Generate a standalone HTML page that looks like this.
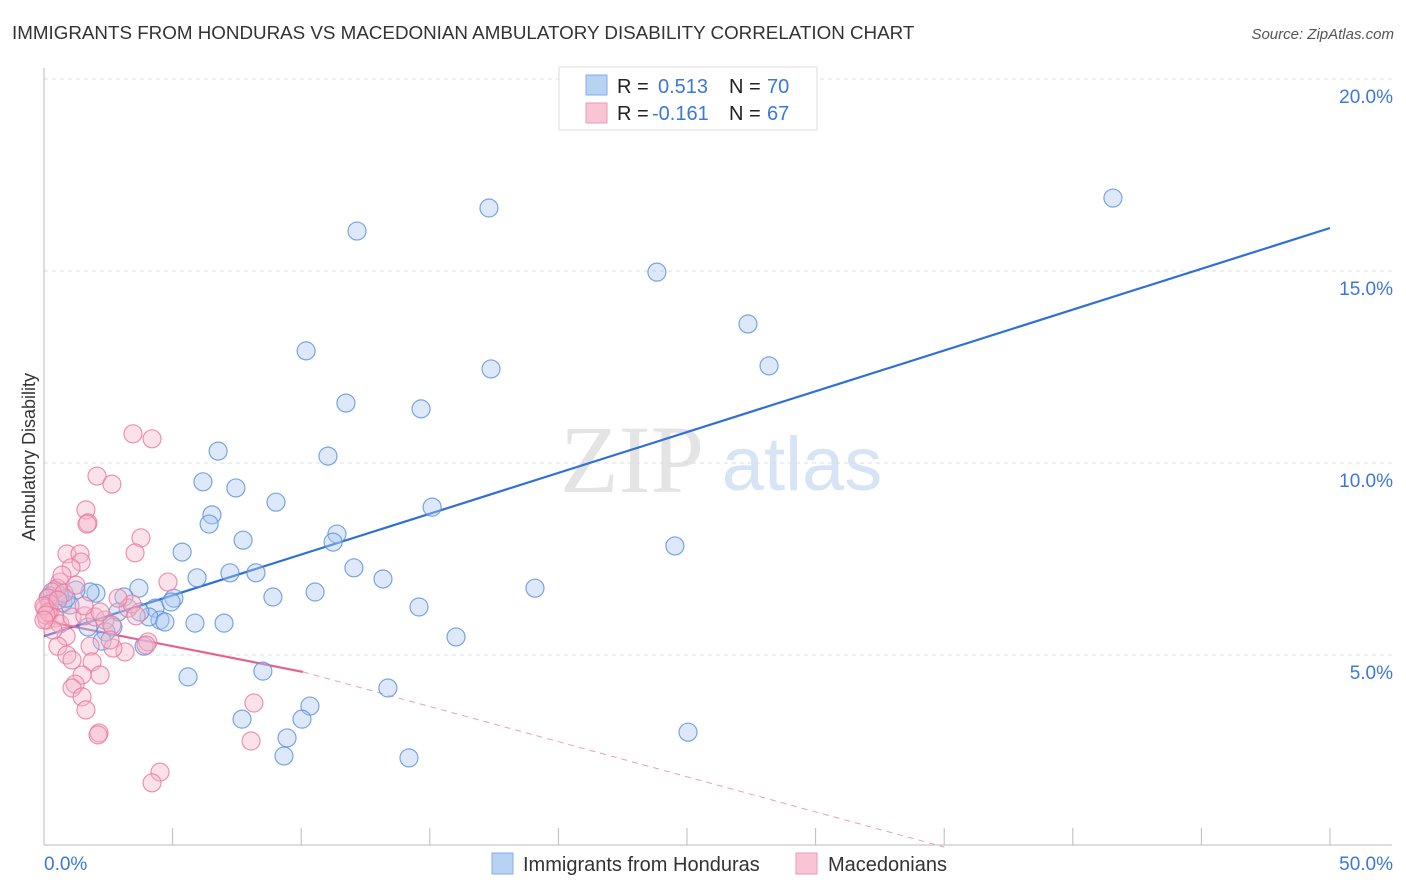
<!DOCTYPE html>
<html><head><meta charset="utf-8"><style>
body{margin:0;background:#fff;font-family:"Liberation Sans",sans-serif;}
svg{display:block}
</style></head><body>
<svg id="chart" width="1406" height="892" xmlns="http://www.w3.org/2000/svg">
<text x="12" y="39" font-size="18.8" fill="#333">IMMIGRANTS FROM HONDURAS VS MACEDONIAN AMBULATORY DISABILITY CORRELATION CHART</text>
<text x="1394" y="39" font-size="15" fill="#555" font-style="italic" text-anchor="end">Source: ZipAtlas.com</text>
<text x="35" y="457" font-size="18" fill="#333" text-anchor="middle" transform="rotate(-90 35 457)">Ambulatory Disability</text>
<g>
<text x="632" y="492" font-size="96" fill="#e4e4e4" font-family="Liberation Serif,serif" text-anchor="middle">ZIP</text>
<text x="802" y="490" font-size="76" fill="#d6e4f6" text-anchor="middle">atlas</text>
</g>
<g id="grid"></g><g id="axes"></g><g id="trends"></g><g id="points"></g>
<g>
<rect x="559" y="67" width="258" height="63" fill="#fff" stroke="#ddd"/>
<rect x="586" y="75" width="21" height="20" fill="#b8d2f4" stroke="#80aee8"/>
<rect x="586" y="103" width="21" height="20" fill="#f9c4d4" stroke="#ee9ab5"/>
<text x="617" y="93" font-size="20" fill="#222">R = </text><text x="658" y="93" font-size="20" fill="#3b78d8">0.513</text>
<text x="729" y="93" font-size="20" fill="#222">N = </text><text x="767" y="93" font-size="20" fill="#3b78d8">70</text>
<text x="617" y="120" font-size="20" fill="#222">R = </text><text x="652" y="120" font-size="20" fill="#3b78d8">-0.161</text>
<text x="729" y="120" font-size="20" fill="#222">N = </text><text x="767" y="120" font-size="20" fill="#3b78d8">67</text>
</g>
<g>
<rect x="492" y="853" width="21" height="21" fill="#b8d2f4" stroke="#80aee8"/>
<text x="523" y="871" font-size="20" fill="#333">Immigrants from Honduras</text>
<rect x="796" y="853" width="21" height="21" fill="#f9c4d4" stroke="#ee9ab5"/>
<text x="828" y="871" font-size="20" fill="#333">Macedonians</text>
</g>
</svg>
<script>
const blueX=[17.30,41.56,12.17,23.83,27.37,10.19,17.38,28.19,11.74,14.66,6.77,11.04,6.18,7.46,9.02,15.09,6.53,6.42,7.74,11.39,11.24,5.37,24.53,12.05,7.23,8.24,5.95,13.18,3.69,19.09,8.90,10.54,5.05,3.11,2.02,1.79,1.24,0.43,0.23,0.74,1.01,4.32,2.88,4.94,4.51,5.87,7.00,4.08,14.58,1.71,2.68,2.41,16.02,2.26,3.89,8.51,5.60,13.37,10.34,7.70,10.03,9.45,9.33,14.19,25.04,0.16,0.62,0.86,3.73,4.70];
const blueY=[16.64,16.90,16.04,14.97,13.62,12.92,12.45,12.53,11.56,11.41,10.31,10.18,9.51,9.35,8.98,8.85,8.65,8.41,7.99,8.15,7.94,7.68,7.84,7.27,7.14,7.14,7.01,6.98,6.74,6.74,6.51,6.64,6.48,6.51,6.61,6.64,6.69,6.69,6.54,6.35,6.30,6.22,6.12,6.38,5.91,5.83,5.83,5.99,6.25,5.73,5.73,5.60,5.47,5.36,5.23,4.58,4.43,4.14,3.67,3.33,3.33,2.84,2.37,2.32,2.99,6.48,6.54,6.48,6.12,5.86];
const pinkX=[3.46,4.20,2.06,2.64,1.63,1.71,1.67,3.77,3.54,0.89,1.40,1.44,1.05,4.82,0.62,0.51,0.31,0.78,0.16,0.23,0.04,0.23,0.12,0.43,0.62,1.09,1.59,1.98,2.37,2.18,3.27,3.42,2.64,3.58,0.86,0.54,0.89,1.79,1.09,1.87,1.48,2.18,1.21,1.09,1.48,1.63,3.15,4.04,3.97,2.68,2.14,2.10,4.51,4.20,8.16,8.05,0.16,0.00,0.08,0.35,0.70,1.24,2.88,0.54,0.0,2.57,1.56];
const pinkY=[10.76,10.63,9.66,9.45,8.78,8.44,8.41,8.05,7.66,7.63,7.63,7.42,7.27,6.90,6.90,6.74,6.64,6.61,6.48,6.33,6.22,6.12,5.91,5.96,5.81,5.99,6.02,5.99,5.91,6.12,6.22,6.33,5.78,6.02,5.49,5.23,5.00,5.23,4.87,4.82,4.48,4.48,4.24,4.14,3.91,3.57,5.08,5.34,5.26,5.18,2.97,2.92,1.95,1.67,3.75,2.76,6.12,6.28,6.04,5.65,7.08,6.82,6.48,6.43,5.91,5.39,6.28];
const blueTrend=[5.49,16.12]; // y at x=0 and x=50
const pinkTrend=[5.89,4.56,10.07]; // y at 0, y at solid-end x, solid-end x
const pinkDashEnd=[35.0,0.0]; // x, y where dashed extension ends
const yTicks=[5,10,15,20];
const yTickLabels=["5.0%","10.0%","15.0%","20.0%"];
const xTicks=[0,5,10,15,20,25,30,35,40,45,50];

const NS="http://www.w3.org/2000/svg";
const sx=v=>44+v*1286/50;
const sy=v=>847-v*38.4;
function mk(tag,attrs,parent){const e=document.createElementNS(NS,tag);for(const k in attrs)e.setAttribute(k,attrs[k]);document.getElementById(parent).appendChild(e);return e;}
yTicks.forEach((t,i)=>{
  const l=mk('line',{x1:44,x2:1392,y1:sy(t),y2:sy(t),stroke:'#ddd','stroke-dasharray':'4,4'},'grid');
  
  
  const tx=mk('text',{x:1393,y:sy(t)+24,'font-size':19,fill:'#3b78d8','text-anchor':'end'},'grid');
  tx.textContent=yTickLabels[i];
  
  
});
mk('line',{x1:44,x2:44,y1:68,y2:845,stroke:'#bbb'},'axes');
mk('line',{x1:44,x2:1392,y1:845,y2:845,stroke:'#bbb'},'axes');
xTicks.forEach(t=>{
  const l=mk('line',{x1:sx(t),x2:sx(t),y1:828,y2:845,stroke:'#bbb'},'axes');
  
  
});
const xl0=mk('text',{x:44,y:870,'font-size':19,fill:'#3b78d8'},'axes');xl0.textContent="0.0%";


const xl1=mk('text',{x:1393,y:870,'font-size':19,fill:'#3b78d8','text-anchor':'end'},'axes');xl1.textContent="50.0%";


function dot(x,y,f,s,n){const c=mk('circle',{cx:sx(x),cy:sy(y),r:9,fill:f,'fill-opacity':0.4,stroke:s,'stroke-width':1.2,'stroke-opacity':0.8},'points');
  
  }
blueX.forEach((x,i)=>dot(x,blueY[i],'#a9c8f0','#5b90dc','point-honduras'));
pinkX.forEach((x,i)=>dot(x,pinkY[i],'#f6b3c7','#e8799e','point-macedonians'));
const bt=mk('line',{x1:sx(0),y1:sy(blueTrend[0]),x2:sx(50),y2:sy(blueTrend[1]),stroke:'#2f6fd6','stroke-width':2.2},'trends');


const pt=mk('line',{x1:sx(0),y1:sy(pinkTrend[0]),x2:sx(pinkTrend[2]),y2:sy(pinkTrend[1]),stroke:'#e8618c','stroke-width':2.2},'trends');


const pd=mk('line',{x1:sx(pinkTrend[2]),y1:sy(pinkTrend[1]),x2:sx(pinkDashEnd[0]),y2:sy(pinkDashEnd[1]),stroke:'#eaa0b8','stroke-width':1,'stroke-dasharray':'6,5'},'trends');


</script>
</body></html>
